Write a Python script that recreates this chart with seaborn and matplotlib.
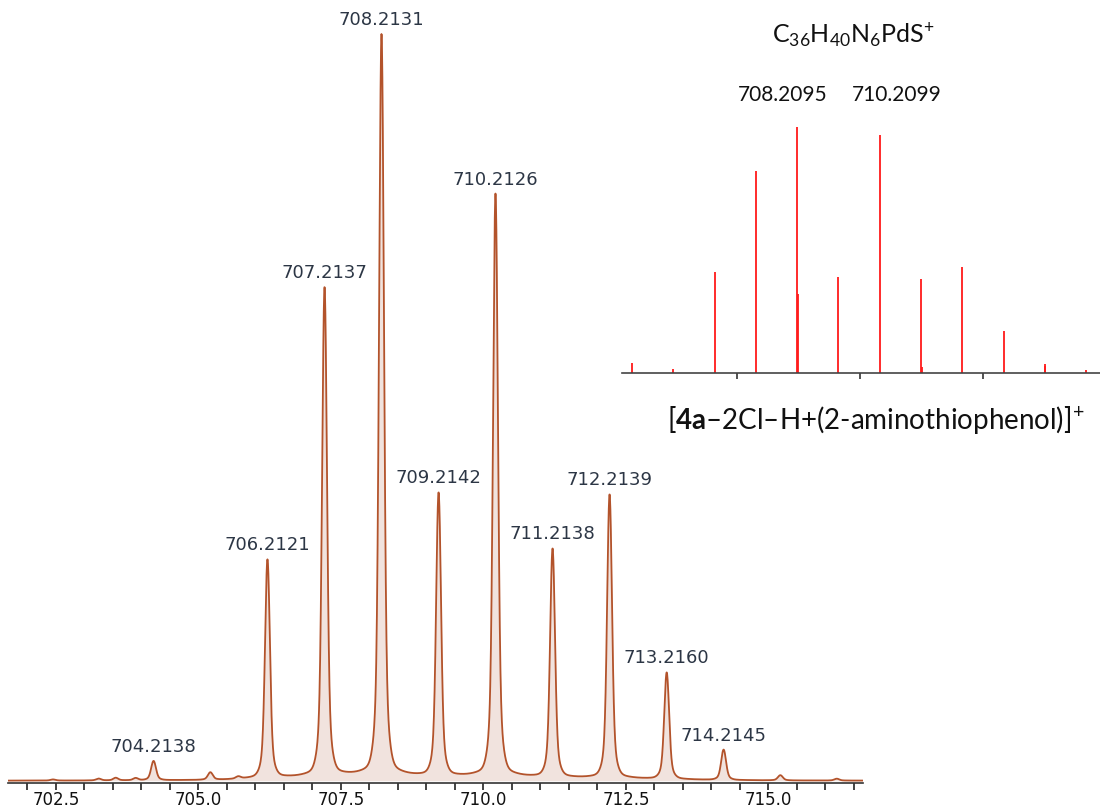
import numpy as np
import pandas as pd
import matplotlib
matplotlib.use("Agg")
import matplotlib.pyplot as plt
import seaborn as sns

# Measured isotope pattern (profile peaks): centroid m/z and relative intensity (%)
peak_mz = [702.45, 703.25, 703.55, 703.9, 704.2138, 705.21, 705.7, 706.2121, 707.2137,
           708.2131, 709.2142, 710.2126, 711.2138, 712.2139, 713.2160, 714.2145,
           715.21, 716.2]
peak_int = [0.15, 0.25, 0.35, 0.3, 2.6, 1.0, 0.3, 29.5, 66.0,
            100.0, 38.3, 78.6, 30.9, 38.3, 14.4, 4.1,
            0.7, 0.25]
# Peaks that carry a value label
label_mz = [704.2138, 706.2121, 707.2137, 708.2131, 709.2142, 710.2126,
            711.2138, 712.2139, 713.2160, 714.2145]

# Simulated isotope pattern for C36H40N6PdS+ (stick spectrum)
sim_mz = [704.21, 705.21, 706.21, 707.21, 708.2095, 708.225, 709.21, 710.2099,
          711.21, 711.222, 712.21, 713.21, 714.205, 714.215, 715.21]
sim_int = [4.2, 1.6, 41.0, 82.0, 100.0, 32.0, 39.0, 96.7,
           38.2, 2.6, 43.0, 17.0, 2.8, 3.7, 1.2]
sim_labels = [708.2095, 710.2099]

main_ticks = [702.5, 705.0, 707.5, 710.0, 712.5, 715.0]

sns.set_theme(style="white")
plt.rcParams["mathtext.fontset"] = "custom"
plt.rcParams["mathtext.rm"] = "Lato"
plt.rcParams["mathtext.it"] = "Lato:italic"
plt.rcParams["mathtext.bf"] = "Lato:bold"
plt.rcParams["font.family"] = ["DejaVu Sans"]

W, H = 1100, 811
fig = plt.figure(figsize=(W / 100, H / 100), dpi=100)
fig.patch.set_facecolor("white")

# ---- profile spectrum built from the peak list ----
mz = np.arange(701.66, 716.66, 0.004)


def shape(x, c):
    d = x - c
    core = np.exp(-0.5 * (d / 0.04) ** 2)
    skirt = np.exp(-0.5 * (d / 0.085) ** 2)
    wing = 0.3 ** 2 / (d ** 2 + 0.3 ** 2)
    return 0.83 * core + 0.14 * skirt + 0.025 * wing


profile = np.zeros_like(mz)
for c, h in zip(peak_mz, peak_int):
    profile += h * shape(mz, c)
df = pd.DataFrame({"mz": mz, "intensity": profile})

ax = fig.add_axes([8 / W, 28 / H, 855 / W, 783 / H])
ax.fill_between(df["mz"], 0, df["intensity"], color="#f1e3de", lw=0, zorder=1)
sns.lineplot(data=df, x="mz", y="intensity", ax=ax, color="#b3532b",
             lw=1.3, zorder=2, estimator=None, sort=False)

ax.set_xlim(701.66, 716.66)
ax.set_ylim(-0.3, 104.3)
ax.set_xlabel("")
ax.set_ylabel("")
ax.set_yticks([])
ax.set_xticks(main_ticks)
ax.set_xticklabels([f"{t:.1f}" for t in main_ticks])
ax.set_xticks(np.arange(702.0, 716.6, 0.5), minor=True)
ax.tick_params(axis="x", which="both", direction="out", length=5, width=1.2,
               color="#222222", bottom=True, labelsize=12, pad=1,
               labelcolor="#111111")
for s in ["top", "left", "right"]:
    ax.spines[s].set_visible(False)
ax.spines["bottom"].set_color("#333333")
ax.spines["bottom"].set_linewidth(1.2)
ax.patch.set_alpha(0)

for c in label_mz:
    i = np.argmin(np.abs(mz - c))
    top = profile[max(i - 15, 0):i + 15].max()
    ax.annotate(f"{c:.4f}", xy=(c, top), xytext=(0, 5),
                textcoords="offset pixels", ha="center", va="bottom",
                fontsize=13, color="#2c3645")

# ---- simulated stick spectrum ----
ins = fig.add_axes([622 / W, (H - 373) / H, 478 / W, 263 / H])
ins.patch.set_alpha(0)
ins.vlines(sim_mz, 0, sim_int, color="#ff1a1a", lw=1.3)
ins.set_xlim(703.97, 715.54)
ins.set_ylim(0, 106.9)
ins.set_yticks([])
ins.set_xticks([706.75, 709.72, 712.7])
ins.set_xticklabels([])
ins.tick_params(axis="x", direction="out", length=4, width=1.2,
                color="#333333", bottom=True)
for s in ["top", "left", "right"]:
    ins.spines[s].set_visible(False)
ins.spines["bottom"].set_color("#444444")
ins.spines["bottom"].set_linewidth(1.2)

offsets = {708.2095: (-14, 32), 710.2099: (17, 40)}
for v in sim_labels:
    j = sim_mz.index(v)
    ins.annotate(f"{v:.4f}", xy=(v, sim_int[j]), xytext=offsets[v],
                 textcoords="offset pixels", ha="center", va="center",
                 fontsize=15, family="Lato", color="#111111")

fig.text(853 / W, 1 - 35 / H, r"C$_{36}$H$_{40}$N$_{6}$PdS$^{+}$",
         ha="center", va="center", fontsize=18, family="Lato", color="#111111")
fig.text(876 / W, 1 - 420 / H,
         r"[$\mathbf{4a}$–2Cl–H+(2-aminothiophenol)]$^{+}$",
         ha="center", va="center", fontsize=20, family="Lato", color="#111111")

fig.savefig("out.png", dpi=100, facecolor="white")
